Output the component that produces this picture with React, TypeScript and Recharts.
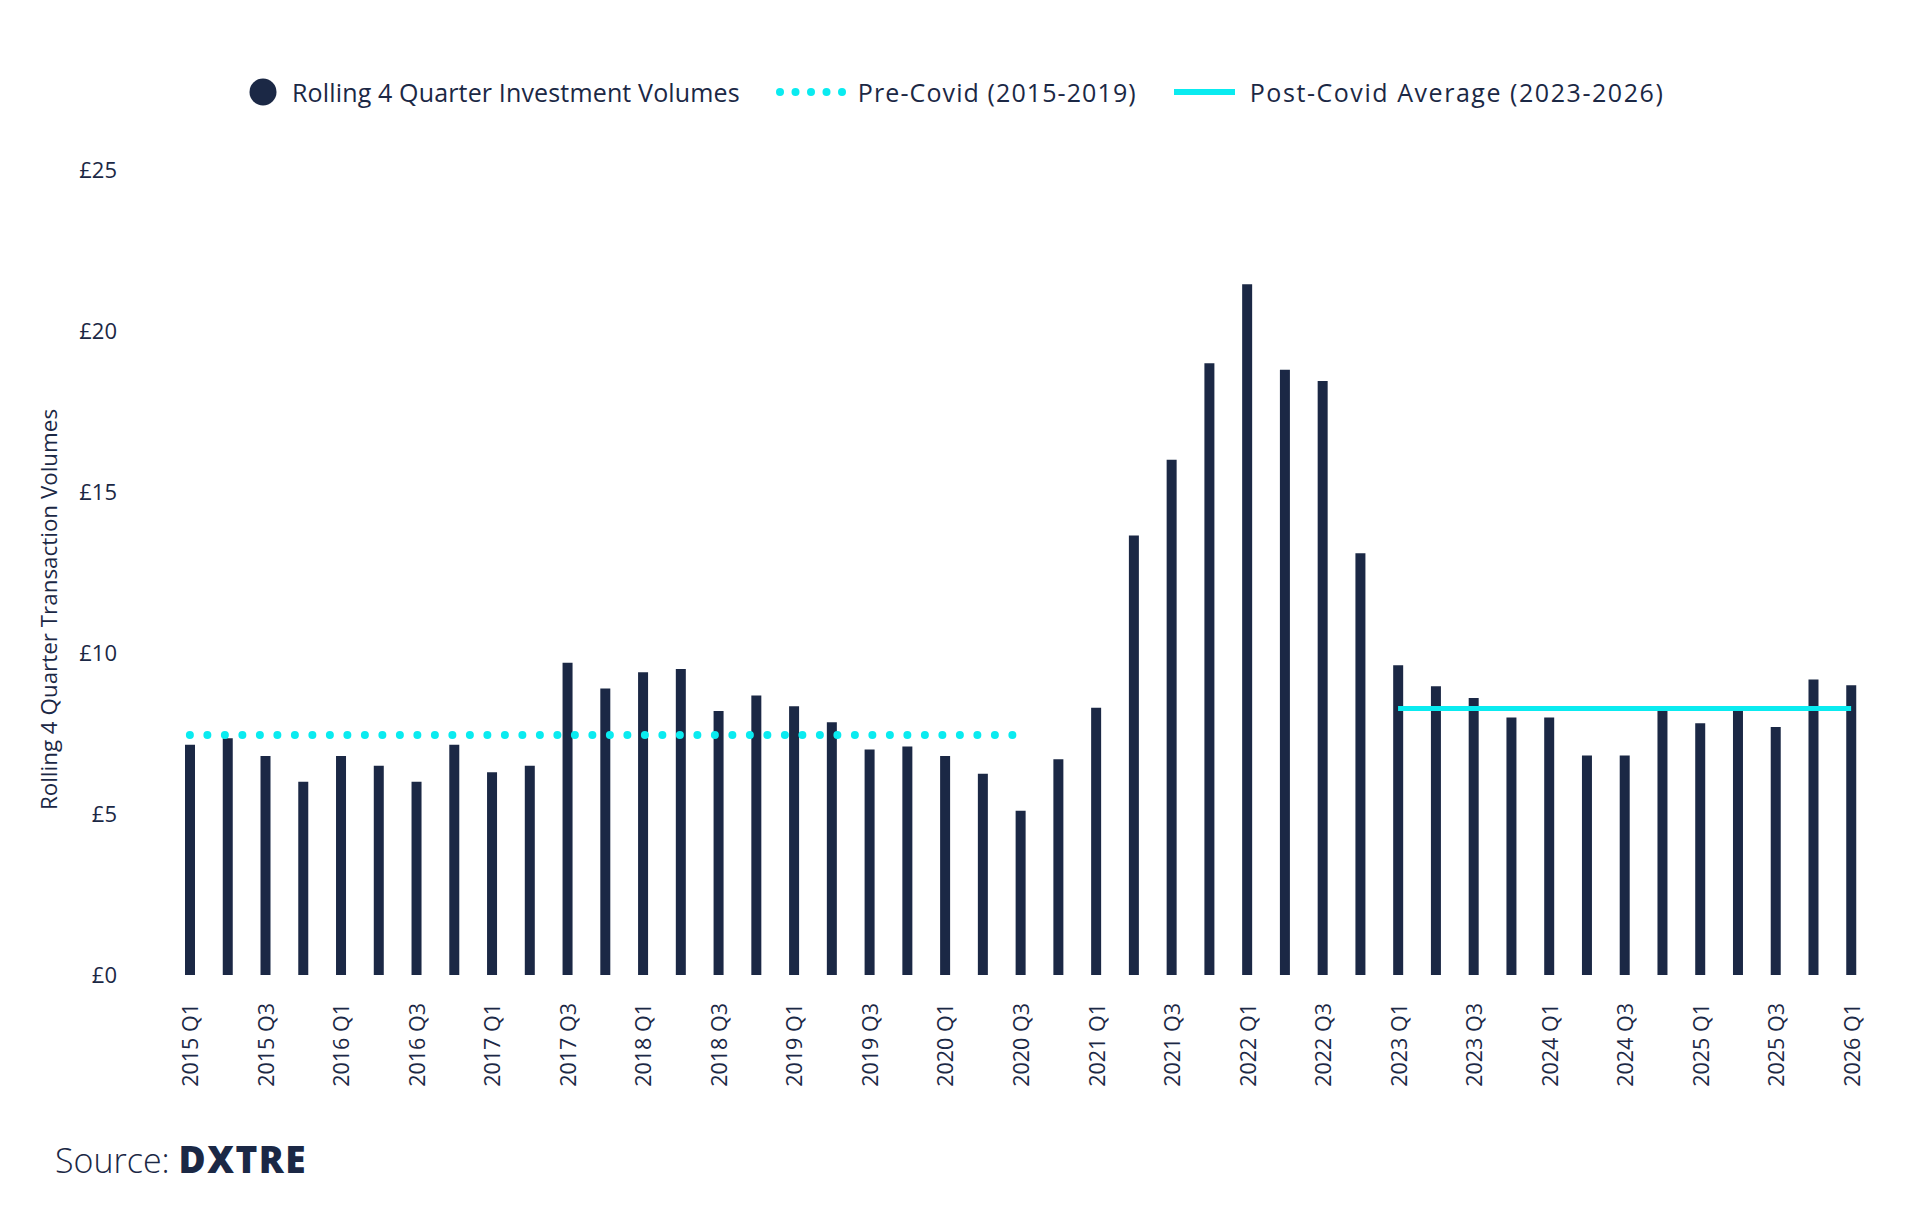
import React from 'react';
import { ComposedChart, Bar, Line, XAxis, YAxis, Legend, Label } from 'recharts';

const quarters = [
  '2015 Q1', '2015 Q2', '2015 Q3', '2015 Q4',
  '2016 Q1', '2016 Q2', '2016 Q3', '2016 Q4',
  '2017 Q1', '2017 Q2', '2017 Q3', '2017 Q4',
  '2018 Q1', '2018 Q2', '2018 Q3', '2018 Q4',
  '2019 Q1', '2019 Q2', '2019 Q3', '2019 Q4',
  '2020 Q1', '2020 Q2', '2020 Q3', '2020 Q4',
  '2021 Q1', '2021 Q2', '2021 Q3', '2021 Q4',
  '2022 Q1', '2022 Q2', '2022 Q3', '2022 Q4',
  '2023 Q1', '2023 Q2', '2023 Q3', '2023 Q4',
  '2024 Q1', '2024 Q2', '2024 Q3', '2024 Q4',
  '2025 Q1', '2025 Q2', '2025 Q3', '2025 Q4',
  '2026 Q1',
];

const volumes = [
  7.15, 7.35, 6.8, 6.0,
  6.8, 6.5, 6.0, 7.15,
  6.3, 6.5, 9.7, 8.9,
  9.4, 9.5, 8.2, 8.68,
  8.35, 7.85, 7.0, 7.1,
  6.8, 6.25, 5.1, 6.7,
  8.3, 13.65, 16.0, 19.0,
  21.45, 18.8, 18.45, 13.1,
  9.62, 8.97, 8.6, 8.0,
  8.0, 6.82, 6.82, 8.35,
  7.82, 8.2, 7.7, 9.18,
  9.0,
];

const preCovidAverage = 7.45;
const preCovidSpan = ['2015 Q1', '2020 Q3'];
const postCovidAverage = 8.28;
const postCovidSpan = ['2023 Q1', '2026 Q1'];

const yTicks = [0, 5, 10, 15, 20, 25];

const legendLabels = [
  'Rolling 4 Quarter Investment Volumes',
  'Pre-Covid (2015-2019)',
  'Post-Covid Average (2023-2026)',
];
const yAxisTitle = 'Rolling 4 Quarter Transaction Volumes';
const sourceLabel = 'Source:';
const sourceBrand = 'DXTRE';

const NAVY = '#1B2845';
const CYAN = '#0AEBF0';
const FONT = "'Open Sans', sans-serif";

const preStart = quarters.indexOf(preCovidSpan[0]);
const preEnd = quarters.indexOf(preCovidSpan[1]);
const postStart = quarters.indexOf(postCovidSpan[0]);
const postEnd = quarters.indexOf(postCovidSpan[1]);

const data = quarters.map((q, i) => ({
  q,
  v: volumes[i],
  pre: i >= preStart && i <= preEnd ? preCovidAverage : null,
  post: i >= postStart && i <= postEnd ? postCovidAverage : null,
}));

const XTick = (props: any) => {
  const { x, y, payload } = props;
  return (
    <text
      x={x}
      y={y}
      transform={`rotate(-90 ${x} ${y})`}
      textAnchor="end"
      dominantBaseline="central"
      fill={NAVY}
      fontSize={21.5}
      fontFamily={FONT}
    >
      {payload.value}
    </text>
  );
};

const YTitle = (props: any) => {
  const vb = props.viewBox || { x: 0, y: 170, width: 171, height: 805 };
  const x = 48;
  const y = vb.y + vb.height / 2 + 37;
  return (
    <text
      x={x}
      y={y}
      transform={`rotate(-90 ${x} ${y})`}
      textAnchor="middle"
      dominantBaseline="central"
      fill={NAVY}
      fontSize={22.4}
      fontFamily={FONT}
    >
      {yAxisTitle}
    </text>
  );
};

const renderLegend = () => (
  <div
    style={{
      display: 'flex',
      alignItems: 'center',
      height: 40,
      paddingLeft: 249,
      fontFamily: FONT,
      fontSize: 25,
      color: NAVY,
      whiteSpace: 'nowrap',
    }}
  >
    <svg width={28} height={28} style={{ display: 'block' }}>
      <circle cx={14} cy={14} r={13.5} fill={NAVY} />
    </svg>
    <span style={{ marginLeft: 15, letterSpacing: 0.15 }}>{legendLabels[0]}</span>
    <svg width={70} height={10} style={{ display: 'block', marginLeft: 36 }}>
      {[0, 1, 2, 3, 4].map((k) => (
        <circle key={k} cx={4 + k * 15.5} cy={5} r={4} fill={CYAN} />
      ))}
    </svg>
    <span style={{ marginLeft: 12, letterSpacing: 1.1 }}>{legendLabels[1]}</span>
    <svg width={61} height={6} style={{ display: 'block', marginLeft: 37 }}>
      <rect x={0} y={0} width={61} height={6} fill={CYAN} />
    </svg>
    <span style={{ marginLeft: 15, letterSpacing: 1.55 }}>{legendLabels[2]}</span>
  </div>
);

export default function App() {
  return (
    <div style={{ position: 'absolute', left: 0, top: 0, width: 1920, height: 1216, background: '#ffffff' }}>
      <ComposedChart
        width={1920}
        height={1216}
        data={data}
        margin={{ top: 170, right: 50, bottom: 0, left: 0 }}
      >
        <XAxis
          dataKey="q"
          interval={1}
          tickLine={false}
          axisLine={false}
          tickSize={0}
          tickMargin={28}
          height={241}
          tick={<XTick />}
        />
        <YAxis
          domain={[0, 25]}
          ticks={yTicks}
          width={171}
          tickLine={false}
          axisLine={false}
          tickSize={0}
          tickMargin={54}
          tickFormatter={(v: number) => `£${v}`}
          tick={{ fill: NAVY, fontSize: 22, fontFamily: FONT }}
        >
          <Label content={<YTitle />} />
        </YAxis>
        <Bar dataKey="v" fill={NAVY} barSize={10} isAnimationActive={false} />
        <Line
          dataKey="pre"
          type="linear"
          stroke={CYAN}
          strokeWidth={8}
          strokeLinecap="round"
          strokeDasharray="0 17.5"
          dot={false}
          activeDot={false}
          legendType="none"
          isAnimationActive={false}
        />
        <Line
          dataKey="post"
          type="linear"
          stroke={CYAN}
          strokeWidth={5}
          dot={false}
          activeDot={false}
          legendType="none"
          isAnimationActive={false}
        />
        <Legend
          verticalAlign="middle"
          align="center"
          layout="horizontal"
          content={renderLegend}
          wrapperStyle={{ top: 72, left: 0, width: 1920, height: 40 }}
        />
      </ComposedChart>
      <div
        style={{
          position: 'absolute',
          left: 55,
          top: 1142,
          fontFamily: FONT,
          fontSize: 34,
          lineHeight: '34px',
          color: NAVY,
          whiteSpace: 'nowrap',
        }}
      >
        <span style={{ fontWeight: 300 }}>{sourceLabel}</span>{' '}
        <span style={{ fontWeight: 800, fontSize: 37, letterSpacing: 1.5 }}>{sourceBrand}</span>
      </div>
    </div>
  );
}
